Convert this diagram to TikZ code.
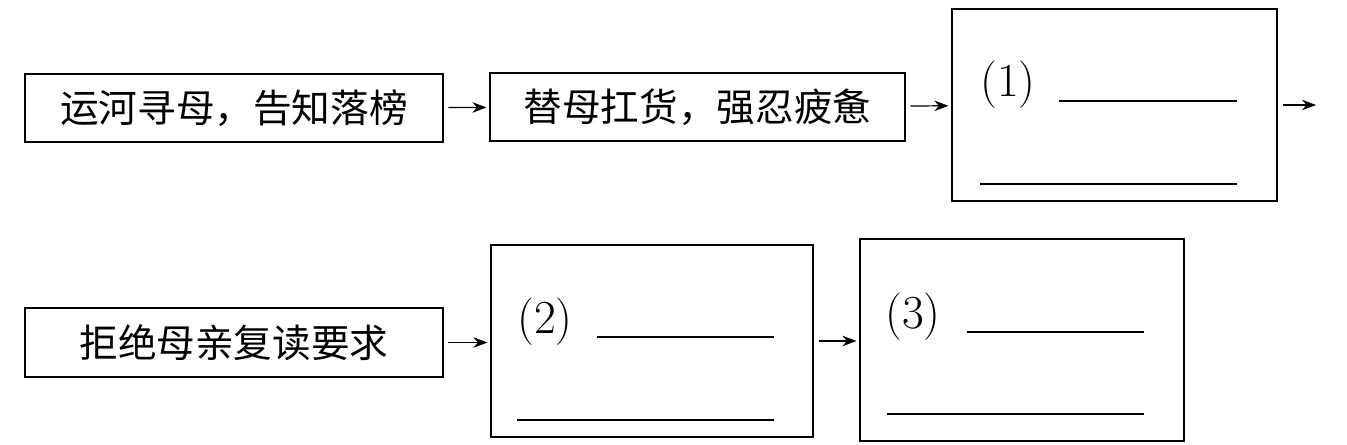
\documentclass[tikz,border=0pt]{standalone}
\usepackage{fontspec}
\newfontfamily\cjk{Noto Sans CJK SC}
\usetikzlibrary{arrows.meta}

\tikzset{
  stage/.style={draw, line width=0.7pt, inner sep=0pt, font=\cjk\fontsize{22}{26}\selectfont},
  answer/.style={draw, line width=0.7pt, inner sep=0pt},
  tag/.style={inner sep=0pt, font=\fontsize{27}{30}\selectfont},
  flow/.style={-{Stealth[length=8pt,width=6pt]}, line width=0.7pt, shorten <=2.8pt, shorten >=1.7pt},
  blankline/.style={line width=0.7pt},
}

\begin{document}
\begin{tikzpicture}[x=0.02cm, y=-0.02cm]
        \useasboundingbox (0, 0) rectangle (1347, 445);

        % first row
        \node[stage, minimum width=8.36cm, minimum height=1.36cm] (m1) at (234, 108) {运河寻母，告知落榜};
        \node[stage, minimum width=8.30cm, minimum height=1.36cm] (m2) at (697.5, 107) {替母扛货，强忍疲惫};
        \node[answer, minimum width=6.50cm, minimum height=3.84cm] (b1) at (1114.5, 105) {};
        \coordinate (out) at (1319, 105);

        \node[tag] (n1) at (1008, 85) {(1)};
        \draw[blankline] (1059, 101)--(1237, 101);
        \draw[blankline] (980, 184)--(1237, 184);

        \draw[flow] (m1)--(m2);
        \draw[flow] (m2)--(b1);
        \draw[flow] (b1.east)--(out);

        % second row
        \node[stage, minimum width=8.36cm, minimum height=1.38cm] (m3) at (234, 342.5) {拒绝母亲复读要求};
        \node[answer, minimum width=6.44cm, minimum height=3.84cm] (b2) at (652, 341) {};
        \node[answer, minimum width=6.48cm, minimum height=4.04cm] (b3) at (1022, 340) {};

        \node[tag] (n2) at (545, 322) {(2)};
        \draw[blankline] (597, 337)--(774, 337);
        \draw[blankline] (517, 420)--(774, 420);

        \node[tag] (n3) at (913, 317) {(3)};
        \draw[blankline] (967, 332)--(1144, 332);
        \draw[blankline] (887, 414)--(1144, 414);

        \draw[flow] (m3.east)--(m3.east -| b2.west);
        \draw[flow] (b2.east)--(b2.east -| b3.west);
\end{tikzpicture}
\end{document}
